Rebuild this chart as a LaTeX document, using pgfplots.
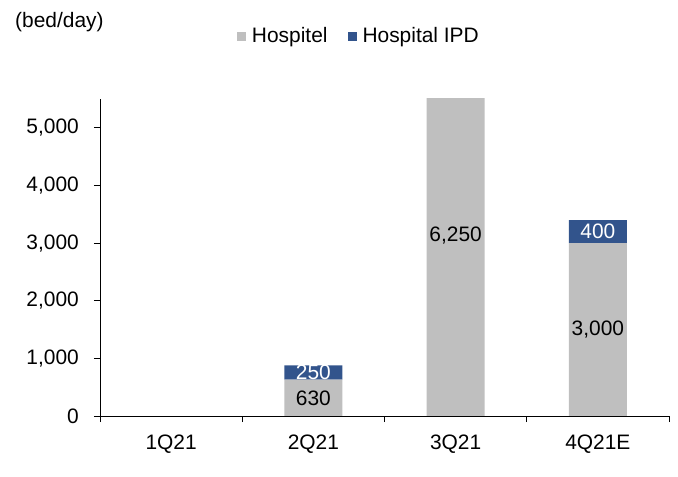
\documentclass[border=0pt]{standalone}
\usepackage{fontspec}
\setmainfont{Liberation Sans}
\usepackage{pgfplots}
\usepackage{pgfplotstable}
\pgfplotsset{compat=1.18}

\definecolor{hgray}{RGB}{191,191,191}
\definecolor{hblue}{RGB}{50,84,140}

% quarterly bed/day, hospitel and hospital IPD
\pgfplotstableread{
x hospitel ipd
0 0 0
1 630 250
2 6250 0
3 3000 400
}\beds

\pgfplotsset{
  frame/.style={
    scale only axis,
    width=569bp, height=317bp,
    xmin=-0.5, xmax=3.5,
    ymin=0, ymax=5500,
  },
}

\begin{document}
\fontsize{21}{25}\selectfont
\begin{tikzpicture}
\useasboundingbox (-100bp,-61bp) rectangle (578bp,416bp);
\begin{axis}[
    frame,
    font=\fontsize{21}{25}\selectfont,
    ybar stacked,
    bar width=58bp,
    axis x line=bottom, axis y line=left,
    axis line style={-, line width=1pt},
    xtick={-0.5,0.5,1.5,2.5,3.5},
    x tick label as interval,
    xticklabels={1Q21,2Q21,3Q21,4Q21E},
    ytick={0,1000,...,5000},
    tick align=outside,
    major tick length=6bp,
    tick style={line width=1pt, black},
    /pgf/number format/.cd, 1000 sep={,}, assume math mode=true,
    /pgfplots/.cd,
    yticklabel style={xshift=-8bp},
    xticklabel style={yshift=-6bp},
    legend style={at={(axis description cs:0.455,1.196)}, anchor=center,
      legend columns=-1, draw=none, fill=none,
      /tikz/every odd column/.append style={column sep=4bp},
      /tikz/every even column/.append style={column sep=18bp}},
    legend image code/.code={\fill[#1] (0bp,-4.5bp) rectangle (9bp,4.5bp);},
  ]
\addplot[fill=hgray, draw=none] table[x=x, y=hospitel] {\beds};
\addplot[fill=hblue, draw=none] table[x=x, y=ipd] {\beds};
\legend{Hospitel, Hospital IPD}
\end{axis}
% segment labels, set in the middle of each segment
\begin{axis}[
    frame, hide axis,
    font=\fontsize{21}{25}\selectfont,
    /pgf/number format/.cd, 1000 sep={,}, assume math mode=true,
    /pgfplots/.cd,
    nodes near coords={\pgfmathfloatifflags{\pgfplotspointmeta}{0}{}{\pgfmathprintnumber{\pgfplotspointmeta}}},
    every node near coord/.append style={anchor=center, inner sep=0pt},
  ]
\addplot[draw=none, mark=none, point meta=\thisrow{hospitel}]
  table[x=x, y expr=\thisrow{hospitel}/2] {\beds};
\addplot[draw=none, mark=none, point meta=\thisrow{ipd},
  every node near coord/.append style={white}]
  table[x=x, y expr=\thisrow{hospitel}+\thisrow{ipd}/2] {\beds};
\end{axis}
\node[anchor=west, inner sep=0pt] at (-85bp,394bp) {(bed/day)};
\end{tikzpicture}
\end{document}
